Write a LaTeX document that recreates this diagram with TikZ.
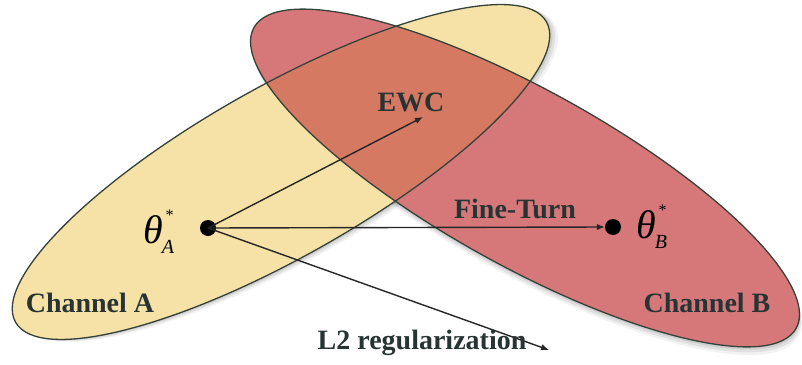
\documentclass[tikz,border=0pt]{standalone}
\usepackage{fontspec}
\setmainfont{Liberation Serif}
\usetikzlibrary{arrows.meta}
\definecolor{chAfill}{RGB}{246,226,166}
\definecolor{chBfill}{RGB}{214,120,122}
\definecolor{overlapfill}{RGB}{214,121,98}
\definecolor{edgecol}{RGB}{52,66,56}
\definecolor{txtcol}{RGB}{40,52,52}
\tikzset{
  ellA/.style={rotate around={29.5:(ca)}},
  ellB/.style={rotate around={-29:(cb)}},
  edge/.style={draw=edgecol,line width=1.3pt},
  lbl/.style={text=txtcol,font=\fontsize{28}{30}\selectfont\bfseries,inner sep=0pt},
  thetalbl/.style={text=black,font=\fontsize{40}{40}\selectfont\itshape,inner sep=0pt},
  dotnode/.style={circle,fill=black,minimum size=16pt,inner sep=0pt},
  arr/.style={draw=black!85,line width=1.4pt,-{Latex[length=8pt,width=6.5pt]}},
}
\begin{document}
\begin{tikzpicture}[x=1pt,y=-1pt]
\useasboundingbox (0,0) rectangle (802,364);
\fill[white] (0,0) rectangle (802,364);
\coordinate (ca) at (281,172);
\coordinate (cb) at (525,178);
% shadows
\foreach \s/\o in {6/0.05,4/0.07,2/0.08}{
  \fill[black,opacity=\o,rotate around={29.5:(ca)}] ([shift={(\s,\s)}]ca) ellipse (305 and 85);
  \fill[black,opacity=\o,rotate around={-29:(cb)}] ([shift={(\s,\s)}]cb) ellipse (310 and 88);
}
% fills
\fill[chAfill,ellA] (ca) ellipse (305 and 85);
\fill[chBfill,ellB] (cb) ellipse (310 and 88);
\begin{scope}
  \clip[ellA] (ca) ellipse (305 and 85);
  \fill[overlapfill,ellB] (cb) ellipse (310 and 88);
\end{scope}
% outlines
\draw[edge,ellA] (ca) ellipse (305 and 85);
\draw[edge,ellB] (cb) ellipse (310 and 88);
% points
\node[dotnode] (pa) at (208,228) {};
\node[dotnode] (pb) at (613,227) {};
\coordinate (ewcend) at (423,117);
\coordinate (l2end) at (549,350);
% arrows
\draw[arr] (pa.center) -- (ewcend);
\draw[arr] (pa.center) -- (pb.west);
\draw[arr] (pa.center) -- (l2end);
% labels
\node[lbl] (ewc) at (411,102) {EWC};
\node[lbl] (ft) at (515,209) {Fine-Turn};
\node[lbl] (l2) at (422,343) {L2 regularization};
\node[lbl] (cha) at (90,303) {Channel A};
\node[lbl] (chb) at (707,303) {Channel B};
\node[thetalbl,anchor=base west] (ta) at (143,243) {θ\kern-1pt\rlap{\kern3pt\raisebox{23pt}{\fontsize{16}{16}\selectfont *}}\raisebox{-10pt}{\fontsize{20}{20}\selectfont A}};
\node[thetalbl,anchor=base west] (tb) at (636,238) {θ\kern-1pt\rlap{\kern3pt\raisebox{23pt}{\fontsize{16}{16}\selectfont *}}\raisebox{-10pt}{\fontsize{20}{20}\selectfont B}};
\end{tikzpicture}
\end{document}
